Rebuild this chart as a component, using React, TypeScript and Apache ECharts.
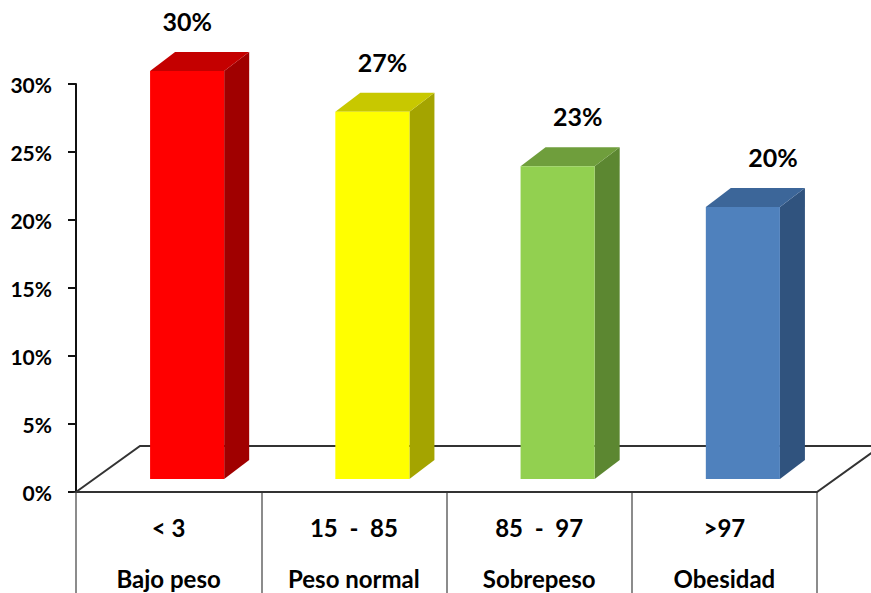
import React, { useEffect, useRef } from "react";
import * as echarts from "echarts";

// Percentile ranges and their weight-status groups
const ranges = ["< 3", "15  -  85", "85  -  97", ">97"];
const groups = ["Bajo peso", "Peso normal", "Sobrepeso", "Obesidad"];
const shares = [0.3, 0.27, 0.23, 0.2];
const yTicks = [0, 0.05, 0.1, 0.15, 0.2, 0.25, 0.3];

// front / top / side shades per bar
const frontColors = ["#FF0000", "#FFFF00", "#92D050", "#4F81BD"];
const topColors = ["#C40000", "#C8C800", "#6F9E3C", "#3C6699"];
const sideColors = ["#A00000", "#A4A400", "#5C8731", "#30537E"];

const FONT = "Lato, 'Open Sans', sans-serif";

export default function App() {
  const ref = useRef<HTMLDivElement>(null);

  useEffect(() => {
    if (!ref.current) return;
    const chart = echarts.init(ref.current, undefined, { renderer: "svg" });

    const floorDX = 64;
    const floorDY = -46;
    const barShiftX = 18.5;
    const barShiftY = -13;
    const depthX = 25;
    const depthY = -19;

    chart.setOption({
      animation: false,
      backgroundColor: "#ffffff",
      grid: { left: 76, right: 54, top: 84, bottom: 101, containLabel: false },
      xAxis: {
        type: "category",
        data: ranges,
        boundaryGap: true,
        axisLine: { show: true, lineStyle: { color: "#333333", width: 2 } },
        axisTick: {
          show: true,
          interval: 0,
          length: 101,
          lineStyle: { color: "#8c8c8c", width: 2 },
        },
        axisLabel: {
          interval: 0,
          margin: 10,
          formatter: (v: string, i: number) => `{a|${v}}\n{b|${groups[i]}}`,
          rich: {
            a: { fontFamily: FONT, fontWeight: "bold", fontSize: 24, color: "#000", lineHeight: 51 },
            b: { fontFamily: FONT, fontWeight: "bold", fontSize: 24, color: "#000", lineHeight: 51 },
          },
        },
        splitLine: { show: false },
      },
      yAxis: {
        type: "value",
        min: 0,
        max: 0.3,
        interval: 0.05,
        axisLine: { show: true, lineStyle: { color: "#111111", width: 2 } },
        axisTick: { show: true, length: 8, lineStyle: { color: "#111111", width: 2 } },
        axisLabel: {
          margin: 24,
          fontFamily: FONT,
          fontWeight: "bold",
          fontSize: 21,
          color: "#000",
          formatter: (v: number) =>
            yTicks.some((t) => Math.abs(t - v) < 1e-9) ? `${Math.round(v * 100)}%` : "",
        },
        splitLine: { show: false },
      },
      series: [
        {
          // floor of the 3D plot area
          type: "custom",
          data: [[0, 0]],
          silent: true,
          clip: false,
          z: 1,
          renderItem: (params: any, api: any) => {
            const cs = params.coordSys;
            const x0 = cs.x;
            const x1 = cs.x + cs.width;
            const yb = cs.y + cs.height;
            return {
              type: "polygon",
              shape: {
                points: [
                  [x0, yb],
                  [x0 + floorDX, yb + floorDY],
                  [x1 + floorDX, yb + floorDY],
                  [x1, yb],
                ],
              },
              style: { fill: "#ffffff", stroke: "#333333", lineWidth: 2 },
            };
          },
        },
        {
          type: "custom",
          data: shares.map((v, i) => [i, v]),
          clip: false,
          z: 3,
          renderItem: (params: any, api: any) => {
            const i = api.value(0);
            const v = api.value(1);
            const top = api.coord([i, v]);
            const base = api.coord([i, 0]);
            const band = api.size([1, 0])[0];
            const w = band * 0.4;
            const xl = top[0] - w / 2 + barShiftX;
            const xr = xl + w;
            const yt = top[1] + barShiftY;
            const yb = base[1] + barShiftY;
            return {
              type: "group",
              children: [
                {
                  type: "polygon",
                  shape: {
                    points: [
                      [xr, yb],
                      [xr + depthX, yb + depthY],
                      [xr + depthX, yt + depthY],
                      [xr, yt],
                    ],
                  },
                  style: { fill: sideColors[i] },
                },
                {
                  type: "polygon",
                  shape: {
                    points: [
                      [xl, yt],
                      [xl + depthX, yt + depthY],
                      [xr + depthX, yt + depthY],
                      [xr, yt],
                    ],
                  },
                  style: { fill: topColors[i] },
                },
                {
                  type: "rect",
                  shape: { x: xl, y: yt, width: w, height: yb - yt },
                  style: { fill: frontColors[i] },
                },
                {
                  type: "text",
                  x: (xl + xr) / 2 + i * 10,
                  y: yt - 50,
                  style: {
                    text: `${Math.round(v * 100)}%`,
                    fontFamily: FONT,
                    fontWeight: "bold",
                    fontSize: 25,
                    fill: "#000",
                    align: "center",
                    verticalAlign: "middle",
                  },
                },
              ],
            };
          },
        },
      ],
    });

    return () => chart.dispose();
  }, []);

  return (
    <div
      ref={ref}
      style={{ position: "fixed", left: 0, top: 0, width: 871, height: 593, background: "#fff" }}
    />
  );
}
